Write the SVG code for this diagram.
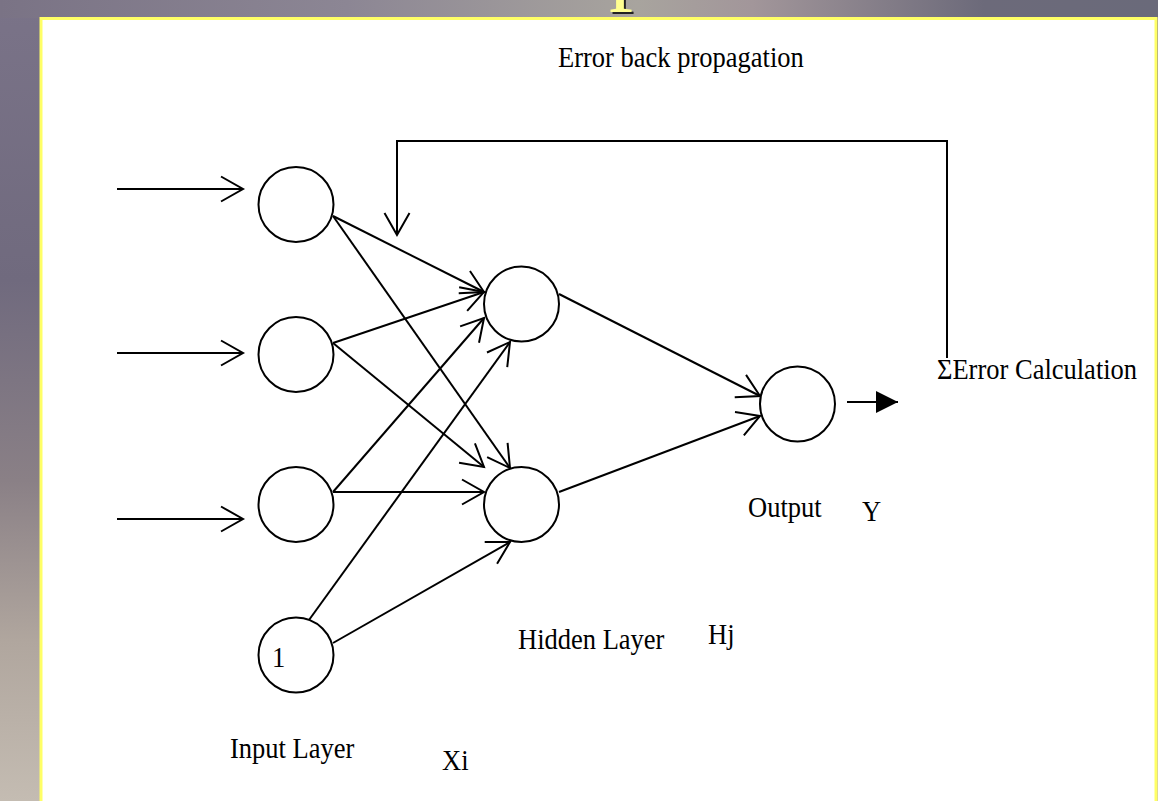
<svg xmlns="http://www.w3.org/2000/svg" width="1158" height="801" viewBox="0 0 1158 801">
<defs>
<linearGradient id="bgTop" x1="0" y1="0" x2="1" y2="0">
<stop offset="0" stop-color="#7a7385"/>
<stop offset="0.3" stop-color="#8c8694"/>
<stop offset="0.55" stop-color="#a8a49e"/>
<stop offset="0.65" stop-color="#a2969a"/>
<stop offset="0.85" stop-color="#6c6a7a"/>
<stop offset="1" stop-color="#6a6a7a"/>
</linearGradient>
<linearGradient id="bgLeft" x1="0" y1="0" x2="0" y2="1">
<stop offset="0" stop-color="#7a7388"/>
<stop offset="0.35" stop-color="#706a7e"/>
<stop offset="0.6" stop-color="#8a8086"/>
<stop offset="0.8" stop-color="#b0a69e"/>
<stop offset="1" stop-color="#c4bcb2"/>
</linearGradient>
<marker id="open" viewBox="-26 -16 30 32" refX="0" refY="0" markerWidth="30" markerHeight="32" markerUnits="userSpaceOnUse" orient="auto" overflow="visible">
<path d="M-22,-12.5 L0,0 L-22,12.5" fill="none" stroke="#000" stroke-width="2"/>
</marker>
<marker id="solid" viewBox="-24 -12 26 24" refX="0" refY="0" markerWidth="26" markerHeight="24" markerUnits="userSpaceOnUse" orient="auto" overflow="visible">
<path d="M-22,-11 L0,0 L-22,11 Z" fill="#000"/>
</marker>
</defs>
<style>
.ln{stroke:#000;stroke-width:2;fill:none}
.arr{marker-end:url(#open)}
.node{fill:#fff;stroke:#000;stroke-width:2}
.lbl{font-family:"Liberation Serif","Times New Roman",serif;font-size:26.5px;fill:#000}
</style>
<rect x="0" y="0" width="1158" height="801" fill="url(#bgLeft)"/>
<rect x="0" y="0" width="1158" height="18" fill="url(#bgTop)"/>
<text x="611" y="-6" font-family="Liberation Serif, serif" font-size="96" fill="#222">p</text>
<text x="609" y="-8" font-family="Liberation Serif, serif" font-size="96" fill="#ffff90">p</text>
<rect x="41" y="18.5" width="1115" height="800" fill="#fff" stroke="#ffff66" stroke-width="3"/>

<g id="connectors">
<line class="ln arr" x1="117" y1="189" x2="243" y2="189"/>
<line class="ln arr" x1="117" y1="353" x2="243" y2="353"/>
<line class="ln arr" x1="117" y1="519" x2="243" y2="519"/>
<line class="ln arr" x1="333" y1="216" x2="484" y2="292"/>
<line class="ln arr" x1="333" y1="216" x2="510" y2="468"/>
<line class="ln arr" x1="333" y1="343" x2="484" y2="292"/>
<line class="ln arr" x1="333" y1="343" x2="484" y2="467"/>
<line class="ln arr" x1="333" y1="492" x2="484" y2="318"/>
<line class="ln arr" x1="333" y1="492" x2="484" y2="492"/>
<line class="ln arr" x1="309" y1="620" x2="510" y2="342"/>
<line class="ln arr" x1="333" y1="643" x2="510" y2="542"/>
<line class="ln arr" x1="559" y1="294" x2="760" y2="396"/>
<line class="ln arr" x1="559" y1="492" x2="760" y2="416"/>
<line x1="847" y1="402" x2="898" y2="402" stroke="#000" stroke-width="2" marker-end="url(#solid)"/>
<polyline class="ln arr" points="947,358 947,141 397,141 397,235"/>
</g>

<g id="input1"><circle class="node" cx="296" cy="204.5" r="37.5"/></g>
<g id="input2"><circle class="node" cx="296" cy="354.5" r="37.5"/></g>
<g id="input3"><circle class="node" cx="296" cy="504.5" r="37.5"/></g>
<g id="bias"><circle class="node" cx="296" cy="655" r="37.5"/>
<text class="lbl" transform="translate(272,667) scale(1,1.08)">1</text></g>
<g id="hidden1"><circle class="node" cx="521.5" cy="304" r="37.5"/></g>
<g id="hidden2"><circle class="node" cx="521.5" cy="504.5" r="37.5"/></g>
<g id="output"><circle class="node" cx="797.5" cy="404" r="37.5"/></g>

<g id="labels">
<text class="lbl" transform="translate(558,67) scale(1,1.08)">Error back propagation</text>
<text class="lbl" transform="translate(937,379) scale(1,1.08)">ΣError Calculation</text>
<text class="lbl" transform="translate(748,517) scale(1,1.08)">Output</text>
<text class="lbl" transform="translate(862,521) scale(1,1.08)">Y</text>
<text class="lbl" transform="translate(518,649) scale(1,1.08)">Hidden Layer</text>
<text class="lbl" transform="translate(708,644) scale(1,1.08)">Hj</text>
<text class="lbl" transform="translate(230,758) scale(1,1.08)">Input Layer</text>
<text class="lbl" transform="translate(442,770) scale(1,1.08)">Xi</text>
</g>
</svg>
